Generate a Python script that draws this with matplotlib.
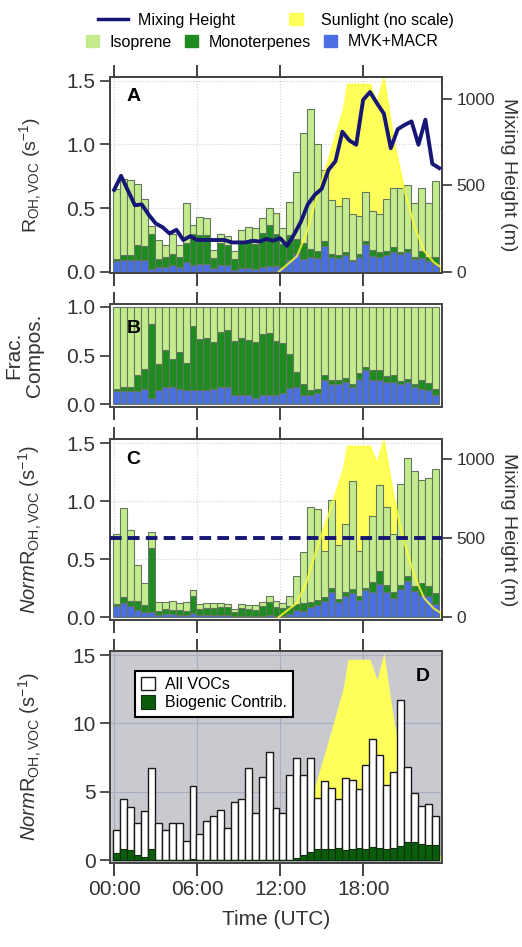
import numpy as np
import matplotlib.pyplot as plt
from matplotlib.patches import Patch
from matplotlib.lines import Line2D

plt.rcParams['font.family'] = ['Liberation Sans', 'DejaVu Sans']
plt.rcParams['mathtext.fontset'] = 'custom'
plt.rcParams['mathtext.rm'] = 'Liberation Sans'
plt.rcParams['mathtext.it'] = 'Liberation Sans:italic'

# --- half-hour bins (47 bars) ---
t = np.arange(47) * 0.5 + 0.2
bw = 0.5

# panel A: total OH reactivity from VOCs (s-1)
r_total = [0.65, 0.73, 0.72, 0.69, 0.57, 0.36, 0.25, 0.21, 0.30, 0.21,
           0.54, 0.37, 0.43, 0.42, 0.17, 0.30, 0.28, 0.16, 0.33, 0.35,
           0.34, 0.42, 0.50, 0.46, 0.34, 0.55, 0.78, 1.09, 1.28, 1.00,
           0.80, 0.56, 0.52, 0.58, 0.45, 0.44, 0.63, 0.48, 0.45, 0.57,
           0.66, 0.66, 0.68, 0.54, 0.66, 0.54, 0.71]

# panel B: cumulative fractions (MVK+MACR, then +monoterpenes)
frac_mvk = [0.13, 0.13, 0.13, 0.13, 0.16, 0.06, 0.14, 0.18, 0.18, 0.16,
            0.14, 0.14, 0.14, 0.14, 0.16, 0.18, 0.18, 0.09, 0.09, 0.09,
            0.06, 0.09, 0.09, 0.09, 0.11, 0.17, 0.18, 0.09, 0.09, 0.11,
            0.25, 0.21, 0.21, 0.23, 0.18, 0.26, 0.35, 0.25, 0.25, 0.23,
            0.23, 0.21, 0.23, 0.18, 0.16, 0.15, 0.09]
frac_mt = [0.16, 0.18, 0.18, 0.30, 0.36, 0.82, 0.41, 0.56, 0.46, 0.54,
           0.42, 0.80, 0.67, 0.68, 0.64, 0.74, 0.76, 0.65, 0.68, 0.66,
           0.64, 0.72, 0.73, 0.65, 0.63, 0.52, 0.33, 0.21, 0.14, 0.16,
           0.30, 0.25, 0.25, 0.27, 0.21, 0.32, 0.38, 0.35, 0.35, 0.29,
           0.30, 0.24, 0.26, 0.21, 0.25, 0.22, 0.16]

# panel C: normalised reactivity (s-1)
norm_total = [0.72, 0.94, 0.75, 0.45, 0.29, 0.73, 0.13, 0.13, 0.14, 0.12,
              0.13, 0.23, 0.11, 0.12, 0.12, 0.12, 0.11, 0.07, 0.11, 0.10,
              0.10, 0.13, 0.18, 0.14, 0.12, 0.18, 0.35, 0.56, 0.95, 0.93,
              0.57, 1.01, 0.62, 0.80, 1.17, 0.57, 0.67, 0.87, 1.14, 0.95,
              0.72, 1.15, 1.37, 1.26, 1.18, 1.20, 1.28]

# panel D: all VOCs and biogenic contribution (s-1)
all_vocs = [2.24, 4.5, 3.9, 2.7, 3.6, 6.75, 2.75, 2.24, 2.7, 2.7,
            1.4, 5.45, 1.9, 2.85, 3.2, 3.65, 2.35, 4.25, 4.5, 6.75,
            3.45, 6.1, 7.9, 3.8, 3.45, 6.2, 7.45, 6.2, 7.45, 4.55,
            5.8, 5.3, 4.45, 6.05, 5.85, 5.2, 6.95, 8.85, 7.7, 5.5,
            6.45, 11.7, 6.8, 4.9, 4.0, 4.1, 3.2]
biogenic = [0.5, 0.85, 0.75, 0.4, 0.25, 0.8, 0.05, 0.05, 0.05, 0.05,
            0.05, 0.1, 0.05, 0.05, 0.05, 0.05, 0.05, 0.05, 0.05, 0.05,
            0.05, 0.05, 0.05, 0.05, 0.05, 0.05, 0.15, 0.35, 0.6, 0.8,
            0.85, 0.8, 0.9, 0.75, 0.85, 0.9, 0.8, 1.0, 0.9, 0.8,
            0.9, 1.05, 1.35, 1.3, 1.2, 1.15, 1.1]

# mixing height (m), every half hour
mh_t = np.arange(48) * 0.5
mixing_height = [474, 555, 470, 385, 390, 330, 280, 258, 222, 243,
                 184, 206, 184, 184, 184, 184, 184, 170, 170, 170,
                 180, 175, 190, 180, 195, 150, 215, 290, 390, 445,
                 480, 590, 640, 810, 760, 735, 995, 1040, 975, 915,
                 715, 825, 850, 870, 735, 880, 625, 600]

# sunlight, relative (no scale)
sun_t = [11.9, 13.2, 13.9, 14.6, 15.6, 16.6, 16.9, 18.5, 19.0, 19.5,
         20.2, 20.9, 21.7, 22.4, 23.1, 23.7]
sun_v = [0.0, 0.08, 0.2, 0.38, 0.61, 0.85, 0.98, 0.98, 0.88, 1.01,
         0.69, 0.45, 0.24, 0.11, 0.05, 0.02]

c_iso = '#c4ec8e'
c_mt = '#1f8c22'
c_mvk = '#4a6fe3'
c_edge = '#66775f'
c_mh = '#161675'
c_sun = '#ffff5c'
c_bio = '#0b5c0b'
c_txt = '#333333'

r_total = np.array(r_total)
norm_total = np.array(norm_total)
frac_mvk = np.array(frac_mvk)
frac_mt = np.array(frac_mt)
sun_t = np.array(sun_t)
sun_v = np.array(sun_v)

fig = plt.figure(figsize=(5.22, 9.47), dpi=100)
L, W = 0.2107, 0.636
axA = fig.add_axes([L, 0.7117, W, 0.207])
axB = fig.add_axes([L, 0.5702, W, 0.1088])
axC = fig.add_axes([L, 0.3453, W, 0.1911])
axD = fig.add_axes([L, 0.0887, W, 0.2239])


def stacked(ax, total, fmvk, fmt):
    mvk = total * fmvk
    mt = total * (fmt - fmvk)
    iso = total - total * fmt
    kw = dict(width=bw, edgecolor=c_edge, linewidth=0.8, zorder=3)
    ax.bar(t, mvk, color=c_mvk, **kw)
    ax.bar(t, mt, bottom=mvk, color=c_mt, **kw)
    ax.bar(t, iso, bottom=mvk + mt, color=c_iso, **kw)


def sunlight(ax, scale, line=True):
    ax.fill_between(sun_t, 0, sun_v * scale, color=c_sun, lw=0, zorder=1)
    if line:
        ax.plot(sun_t, sun_v * scale, color='#ffff30', lw=1.5, alpha=0.8, zorder=4)


# --- panel A ---
sunlight(axA, 1.5)
stacked(axA, r_total, frac_mvk, frac_mt)
axA.set_ylim(-0.01, 1.53)
axA.set_yticks([0, 0.5, 1.0, 1.5])
axA.set_ylabel(r'R$_{\rm OH,VOC}$ (s$^{-1}$)', fontsize=14)
axA2 = axA.twinx()
axA2.plot(mh_t, mixing_height, color=c_mh, lw=2.8, zorder=5)
axA2.set_ylim(-7, 1127)
axA2.set_yticks([0, 500, 1000])

# --- panel B ---
ones = np.ones(len(t))
stacked(axB, ones, frac_mvk, frac_mt)
axB.set_ylim(-0.03, 1.03)
axB.set_yticks([0, 0.5, 1.0])
axB.set_ylabel('Frac.\nCompos.', fontsize=15, linespacing=1.1)

# --- panel C ---
sunlight(axC, 1.5)
stacked(axC, norm_total, frac_mvk, frac_mt)
axC.set_ylim(-0.025, 1.535)
axC.set_yticks([0, 0.5, 1.0, 1.5])
axC.set_ylabel(r'$\mathit{Norm}$R$_{\rm OH,VOC}$ (s$^{-1}$)', fontsize=14.5)
axC2 = axC.twinx()
axC2.axhline(500, color=c_mh, lw=2.8, ls=(0, (3, 1.6)), zorder=5)
axC2.set_ylim(-18, 1127)
axC2.set_yticks([0, 500, 1000])

# --- panel D ---
axD.set_facecolor('#c9cacf')
sunlight(axD, 15, line=False)
axD.bar(t, all_vocs, width=bw, color='white', edgecolor='#1a1a1a', linewidth=1.0,
        zorder=3, label='All VOCs')
axD.bar(t, biogenic, width=bw, color=c_bio, edgecolor='#103010', linewidth=0.8,
        zorder=4, label='Biogenic Contrib.')
axD.set_ylim(-0.2, 15.3)
axD.set_yticks([0, 5, 10, 15])
axD.set_ylabel(r'$\mathit{Norm}$R$_{\rm OH,VOC}$ (s$^{-1}$)', fontsize=14.5)
legD = axD.legend(loc='upper left', bbox_to_anchor=(0.05, 0.945), fontsize=11.5,
                  frameon=True, fancybox=False, framealpha=1, edgecolor='black',
                  handlelength=0.9, handleheight=0.9, handletextpad=0.6,
                  borderpad=0.4, labelspacing=0.2)
legD.get_frame().set_linewidth(1.5)

# --- common formatting ---
for ax in [axA, axB, axC, axD]:
    ax.set_xlim(-0.3, 23.7)
    ax.set_xticks([0, 6, 12, 18])
    ax.set_xticklabels(['00:00', '06:00', '12:00', '18:00'])
    ax.tick_params(axis='x', direction='out', length=9, width=1.3, top=True,
                   bottom=True, labelbottom=False, colors=c_txt)
    ax.tick_params(axis='y', direction='out', length=7, width=1.2, labelsize=15,
                   colors=c_txt)
    ax.set_axisbelow(True)
    for s in ax.spines.values():
        s.set_color('#444444')
        s.set_linewidth(1.4)
    ax.yaxis.label.set_color(c_txt)

axD.tick_params(axis='x', labelbottom=True, labelsize=15)
axD.set_xlabel('Time (UTC)', fontsize=15, color=c_txt, labelpad=8)

for ax in [axA, axC]:
    ax.grid(True, color='#d0d0d0', ls=':', lw=0.8)
axD.grid(True, color='#a9acc2', lw=0.8)

for ax2 in [axA2, axC2]:
    ax2.tick_params(axis='y', direction='out', length=7, width=1.2, labelsize=12.5,
                    colors=c_txt)
    ax2.set_ylabel('Mixing Height (m)', rotation=270, fontsize=14, labelpad=16,
                   color=c_txt)
    for s in ax2.spines.values():
        s.set_color('#444444')
        s.set_linewidth(1.4)

for ax in [axA, axB, axC, axD]:
    ax.yaxis.set_label_coords(-0.2, 0.5)

axA.text(0.05, 0.88, 'A', transform=axA.transAxes, fontsize=14, fontweight='bold', zorder=6)
axB.text(0.05, 0.72, 'B', transform=axB.transAxes, fontsize=14, fontweight='bold', zorder=6)
axC.text(0.05, 0.86, 'C', transform=axC.transAxes, fontsize=14, fontweight='bold', zorder=6)
axD.text(0.92, 0.86, 'D', transform=axD.transAxes, fontsize=14, fontweight='bold', zorder=6)

# --- top legends ---
kw = dict(frameon=False, fontsize=11.5, borderpad=0, borderaxespad=0, loc='center left')
fig.legend(handles=[Line2D([], [], color=c_mh, lw=2.5)], labels=['Mixing Height'],
           bbox_to_anchor=(98 / 522, 1 - 20 / 947), handlelength=1.9,
           handletextpad=0.6, **kw)
fig.legend(handles=[Patch(color=c_sun)], labels=['Sunlight (no scale)'],
           bbox_to_anchor=(289 / 522, 1 - 20 / 947), handlelength=0.9,
           handleheight=0.8, handletextpad=1.1, **kw)
fig.legend(handles=[Patch(color=c_iso), Patch(color=c_mt), Patch(color=c_mvk)],
           labels=['Isoprene', 'Monoterpenes', 'MVK+MACR'], ncol=3,
           bbox_to_anchor=(86 / 522, 1 - 42 / 947), handlelength=0.8,
           handleheight=0.8, handletextpad=0.7, columnspacing=0.8, **kw)

fig.savefig('out.png', dpi=100)
